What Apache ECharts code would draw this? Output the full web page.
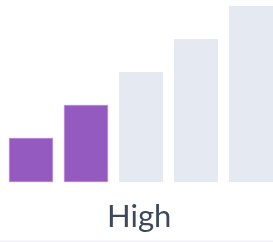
<!DOCTYPE html>
<html>
<head>
<meta charset="utf-8">
<script src="https://cdn.jsdelivr.net/npm/echarts@6/dist/echarts.min.js"></script>
<style>
  html, body { margin: 0; padding: 0; background: #fff; overflow: hidden; }
  #chart { width: 279px; height: 242px; }
</style>
</head>
<body>
<div id="chart"></div>
<script>
// levels of the signal-strength style bars
var categories = ['1', '2', '3', '4', '5'];
var values = [4, 7, 10, 13, 16];
var activeCount = 2;
var levelLabel = 'High';

var chart = echarts.init(document.getElementById('chart'));

var barData = values.map(function (v, i) {
  return {
    value: v,
    itemStyle: i < activeCount
      ? { color: '#955ac0', borderColor: '#b98ad8', borderWidth: 0.6 }
      : { color: '#e4e9f2' }
  };
});

var option = {
  animation: false,
  title: {
    text: levelLabel,
    left: 107,
    top: 201,
    padding: 0,
    textStyle: {
      fontFamily: 'Lato',
      fontWeight: 'normal',
      fontSize: 31,
      color: '#3c495c'
    }
  },
  grid: {
    left: 3.5,
    right: 0.5,
    top: 6,
    bottom: 60
  },
  xAxis: {
    type: 'category',
    data: categories,
    axisLine: { show: false },
    axisTick: { show: false },
    axisLabel: { show: false }
  },
  yAxis: {
    type: 'value',
    min: 0,
    max: 16,
    show: false,
    splitLine: { show: false }
  },
  series: [{
    type: 'bar',
    data: barData,
    barCategoryGap: '20%'
  }],
  graphic: [{
    type: 'rect',
    shape: { x: 0, y: 240.5, width: 279, height: 1.5 },
    style: { fill: '#f0f0f5' },
    silent: true
  }]
};

chart.setOption(option);
</script>
</body>
</html>
